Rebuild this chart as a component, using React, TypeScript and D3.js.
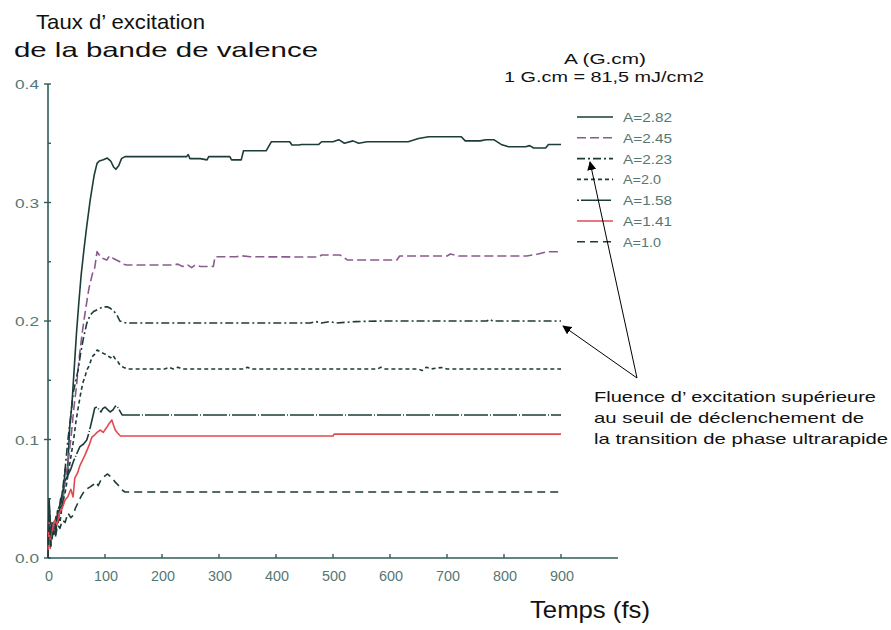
import React from "react";
import * as d3 from "d3";

// Valence-band excitation rate vs time, one series per fluence A (G.cm)
const timeTicks = [0, 100, 200, 300, 400, 500, 600, 700, 800, 900];
const rateTicks = [0.0, 0.1, 0.2, 0.3, 0.4];
const rateMinorTicks = [0.05, 0.15, 0.25, 0.35];

const seriesA282: [number, number][] = [
  [0, 0], [2, 0.048], [4, 0.01], [7, 0.03], [10, 0.02], [14, 0.035], [18, 0.03], [22, 0.05],
  [26, 0.045], [30, 0.075], [34, 0.07], [38, 0.11], [42, 0.13], [46, 0.16], [50, 0.19],
  [54, 0.215], [58, 0.238], [63, 0.26], [68, 0.28], [74, 0.302], [81, 0.323], [86, 0.333],
  [90, 0.335], [97, 0.336], [104, 0.3375], [110, 0.335], [115, 0.33], [119, 0.328],
  [124, 0.331], [129, 0.337], [135, 0.3387], [243, 0.3387], [246, 0.3405], [249, 0.337],
  [267, 0.337], [279, 0.336], [282, 0.3387], [319, 0.3387], [322, 0.336], [339, 0.336],
  [343, 0.3437], [383, 0.3437], [392, 0.3513], [424, 0.3513], [428, 0.3485], [440, 0.3485],
  [445, 0.349], [475, 0.349], [480, 0.3513], [500, 0.3513], [510, 0.353], [520, 0.35],
  [535, 0.352], [545, 0.35], [560, 0.3513], [632, 0.3513], [650, 0.354], [668, 0.3555],
  [725, 0.3555], [732, 0.352], [758, 0.352], [768, 0.353], [782, 0.353], [795, 0.349],
  [808, 0.347], [838, 0.347], [845, 0.348], [852, 0.346], [873, 0.346], [878, 0.349],
  [900, 0.349],
];

const seriesA245: [number, number][] = [
  [0, 0], [2, 0.04], [5, 0.012], [9, 0.03], [13, 0.022], [17, 0.04], [21, 0.035], [26, 0.05],
  [30, 0.065], [35, 0.08], [40, 0.1], [45, 0.125], [50, 0.145], [55, 0.17], [60, 0.19],
  [66, 0.21], [72, 0.228], [78, 0.24], [82, 0.245], [86, 0.2585], [90, 0.2557], [95, 0.253],
  [103, 0.2515], [108, 0.255], [114, 0.253], [120, 0.2515], [126, 0.25], [132, 0.248],
  [138, 0.2473], [220, 0.2473], [228, 0.248], [236, 0.246], [245, 0.2473], [252, 0.245],
  [258, 0.2473], [268, 0.246], [290, 0.246], [293, 0.2542], [330, 0.2542], [340, 0.255],
  [355, 0.2542], [475, 0.254], [480, 0.2557], [512, 0.2557], [518, 0.254], [525, 0.2515],
  [612, 0.2515], [617, 0.2549], [700, 0.2549], [706, 0.2565], [720, 0.2549], [840, 0.2549],
  [860, 0.2565], [875, 0.2585], [900, 0.2585],
];

const seriesA223: [number, number][] = [
  [0, 0], [2, 0.045], [5, 0.015], [9, 0.03], [13, 0.025], [17, 0.04], [21, 0.038], [25, 0.055],
  [30, 0.075], [35, 0.1], [40, 0.12], [44, 0.139], [49, 0.15], [53, 0.159], [57, 0.172],
  [62, 0.185], [68, 0.198], [74, 0.205], [80, 0.208], [88, 0.21], [96, 0.2118], [104, 0.212],
  [110, 0.2105], [116, 0.208], [121, 0.205], [126, 0.2], [132, 0.199], [138, 0.1983],
  [460, 0.1983], [470, 0.1995], [480, 0.1983], [495, 0.1995], [505, 0.1983], [540, 0.1995],
  [585, 0.2], [770, 0.2], [775, 0.2015], [780, 0.2], [900, 0.2],
];

const seriesA200: [number, number][] = [
  [0, 0], [2, 0.042], [5, 0.012], [9, 0.028], [13, 0.02], [17, 0.035], [21, 0.03], [25, 0.045],
  [30, 0.055], [35, 0.07], [40, 0.085], [45, 0.1], [49, 0.115], [53, 0.127], [57, 0.138],
  [61, 0.1477], [65, 0.153], [68, 0.1586], [73, 0.163], [77, 0.1696], [82, 0.172],
  [86, 0.1755], [92, 0.174], [98, 0.1725], [103, 0.1713], [110, 0.169], [114, 0.171],
  [118, 0.168], [121, 0.167], [126, 0.163], [132, 0.161], [140, 0.1595], [205, 0.1595],
  [212, 0.161], [220, 0.1595], [228, 0.161], [235, 0.1595], [345, 0.1595], [350, 0.161],
  [356, 0.1595], [578, 0.1595], [584, 0.161], [590, 0.1595], [650, 0.1595], [656, 0.1582],
  [664, 0.161], [672, 0.1595], [690, 0.1608], [700, 0.1595], [900, 0.1595],
];

const seriesA158: [number, number][] = [
  [0, 0], [2, 0.05], [5, 0.015], [9, 0.025], [13, 0.02], [17, 0.04], [21, 0.045], [25, 0.055],
  [30, 0.065], [35, 0.07], [40, 0.075], [45, 0.082], [51, 0.0886], [56, 0.094], [62, 0.096],
  [68, 0.0996], [72, 0.106], [77, 0.116], [82, 0.1266], [86, 0.1274], [90, 0.125],
  [93, 0.1232], [96, 0.126], [100, 0.1274], [105, 0.125], [109, 0.1232], [114, 0.125],
  [118, 0.128], [121, 0.1283], [125, 0.125], [130, 0.1207], [900, 0.1207],
];

const seriesA141: [number, number][] = [
  [0, 0], [2, 0.03], [4, 0.008], [7, 0.02], [10, 0.03], [12, 0.032], [16, 0.028], [20, 0.038],
  [25, 0.042], [30, 0.049], [35, 0.052], [40, 0.058], [44, 0.0515], [47, 0.0675], [52, 0.072],
  [56, 0.078], [65, 0.087], [72, 0.095], [77, 0.102], [82, 0.104], [86, 0.106], [92, 0.108],
  [97, 0.106], [104, 0.111], [108, 0.114], [112, 0.1165], [115, 0.112], [118, 0.108],
  [122, 0.1055], [127, 0.103], [500, 0.103], [502, 0.1045], [900, 0.1045],
];

const seriesA100: [number, number][] = [
  [0, 0], [2, 0.035], [5, 0.01], [9, 0.022], [13, 0.018], [17, 0.028], [21, 0.025], [25, 0.032],
  [30, 0.03], [35, 0.038], [40, 0.034], [44, 0.036], [48, 0.042], [52, 0.046], [58, 0.052],
  [65, 0.0574], [74, 0.06], [80, 0.062], [85, 0.064], [88, 0.061], [92, 0.065], [97, 0.068],
  [104, 0.0709], [112, 0.068], [118, 0.064], [123, 0.0616], [128, 0.058], [135, 0.0557],
  [900, 0.0557],
];

const legendLabels = ["A=2.82", "A=2.45", "A=2.23", "A=2.0", "A=1.58", "A=1.41", "A=1.0"];

const INK = "#1b3c39";
const AXIS = "#2f5c57";
const TICK_TEXT = "#557773";

const seriesStyles = [
  { data: seriesA282, color: INK, dash: "none" },
  { data: seriesA245, color: "#8a5b8f", dash: "9,4" },
  { data: seriesA223, color: INK, dash: "8,3,2,3" },
  { data: seriesA200, color: INK, dash: "4,3" },
  { data: seriesA158, color: INK, dash: "24,2,1,2" },
  { data: seriesA141, color: "#e24a50", dash: "none" },
  { data: seriesA100, color: INK, dash: "8,5" },
];

const W = 891;
const H = 630;

const x = d3.scaleLinear().domain([0, 1000]).range([48, 618]);
const y = d3.scaleLinear().domain([0, 0.4]).range([558, 84]);

const line = d3
  .line<[number, number]>()
  .x((d) => x(d[0]))
  .y((d) => y(d[1]));

// Text stretched horizontally to a given width
function FitText(props: {
  x: number;
  y: number;
  w: number;
  size: number;
  text: string;
  anchor?: "start" | "middle" | "end";
  fill?: string;
  family?: string;
}) {
  const { anchor = "start" } = props;
  const left =
    anchor === "start" ? props.x : anchor === "middle" ? props.x - props.w / 2 : props.x - props.w;
  return (
    <text
      x={left}
      y={props.y}
      fontSize={props.size}
      fontFamily={props.family ?? "'Liberation Sans', Arial, sans-serif"}
      fill={props.fill ?? "#111"}
      textLength={props.w}
      lengthAdjust="spacingAndGlyphs"
    >
      {props.text}
    </text>
  );
}

export default function App() {
  const legendX0 = 577;
  const legendX1 = 613;
  const legendY = (i: number) => 117 + i * 20.8;

  return (
    <svg
      width={W}
      height={H}
      viewBox={`0 0 ${W} ${H}`}
      style={{ position: "absolute", left: 0, top: 0, background: "#fff" }}
    >
      <defs>
        <marker
          id="arrowHead"
          viewBox="0 0 10 10"
          refX="9"
          refY="5"
          markerWidth="9"
          markerHeight="9"
          markerUnits="userSpaceOnUse"
          orient="auto"
        >
          <path d="M0,0 L10,5 L0,10 z" fill="#000" />
        </marker>
      </defs>

      {/* Title */}
      <FitText x={36} y={29} w={169} size={21} text="Taux d’ excitation" />
      <FitText x={14} y={57} w={304} size={21} text="de la bande de valence" />

      {/* Axes */}
      <line x1={x(0)} x2={x(1000)} y1={y(0)} y2={y(0)} stroke={AXIS} strokeWidth={1.6} />
      <line x1={x(0)} x2={x(0)} y1={y(0)} y2={y(0.4)} stroke={AXIS} strokeWidth={1.6} />

      {timeTicks.map((t) => (
        <g key={`xt${t}`}>
          <line x1={x(t)} x2={x(t)} y1={y(0)} y2={y(0) - 4} stroke={AXIS} strokeWidth={1.4} />
          <FitText
            x={x(t) + 1}
            y={581}
            w={t === 0 ? 8 : 24}
            size={14}
            anchor="middle"
            text={String(t)}
            fill={TICK_TEXT}
          />
        </g>
      ))}

      {rateTicks.map((v) => (
        <g key={`yt${v}`}>
          <line x1={x(0) - 4} x2={x(0) + 3} y1={y(v)} y2={y(v)} stroke={AXIS} strokeWidth={1.4} />
          <FitText
            x={39}
            y={y(v) + 5}
            w={24}
            size={13}
            anchor="end"
            text={v.toFixed(1)}
            fill={TICK_TEXT}
          />
        </g>
      ))}
      {rateMinorTicks.map((v) => (
        <line
          key={`ym${v}`}
          x1={x(0)}
          x2={x(0) + 3}
          y1={y(v)}
          y2={y(v)}
          stroke={AXIS}
          strokeWidth={1.4}
        />
      ))}

      {/* Curves */}
      {seriesStyles.map((s, i) => (
        <path
          key={`s${i}`}
          d={line(s.data) ?? ""}
          fill="none"
          stroke={s.color}
          strokeWidth={1.6}
          strokeDasharray={s.dash}
          strokeLinejoin="round"
        />
      ))}

      {/* Legend */}
      <FitText x={605} y={64} w={82} size={15} anchor="middle" text="A (G.cm)" />
      <FitText x={604} y={82} w={200} size={15} anchor="middle" text="1 G.cm = 81,5 mJ/cm2" />
      {seriesStyles.map((s, i) => (
        <g key={`lg${i}`}>
          <line
            x1={legendX0}
            x2={legendX1}
            y1={legendY(i)}
            y2={legendY(i)}
            stroke={s.color}
            strokeWidth={1.6}
            strokeDasharray={s.dash === "24,2,1,2" ? "2,2,30" : s.dash}
          />
          <FitText
            x={623}
            y={legendY(i) + 5}
            w={legendLabels[i].length === 5 ? 38 : 49}
            size={13}
            text={legendLabels[i]}
            fill={TICK_TEXT}
          />
        </g>
      ))}

      {/* Annotation */}
      <line
        x1={637}
        y1={378}
        x2={590}
        y2={162}
        stroke="#000"
        strokeWidth={1}
        markerEnd="url(#arrowHead)"
      />
      <line
        x1={637}
        y1={378}
        x2={563}
        y2={326}
        stroke="#000"
        strokeWidth={1}
        markerEnd="url(#arrowHead)"
      />
      <FitText x={594} y={402} w={282} size={15} text="Fluence d’ excitation supérieure" />
      <FitText x={594} y={423} w={270} size={15} text="au seuil de déclenchement de" />
      <FitText x={594} y={444} w={294} size={15} text="la transition de phase ultrarapide" />

      {/* X axis title */}
      <FitText x={530} y={618} w={120} size={24} text="Temps (fs)" />
    </svg>
  );
}
